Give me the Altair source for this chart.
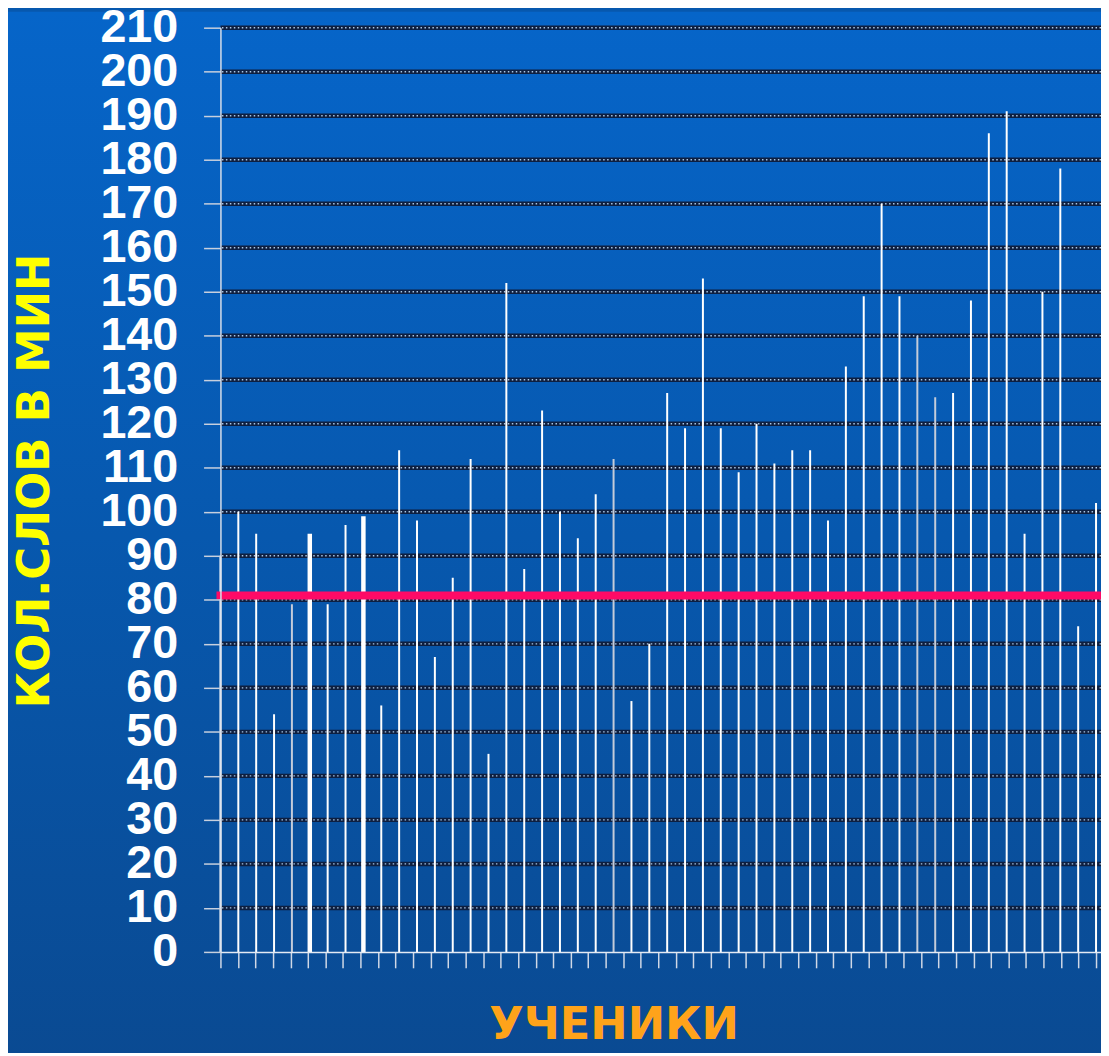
import altair as alt
import pandas as pd

# ---- data ----
students = list(range(50))
words_per_min = [90, 100, 95, 54, 79, 95, 79, 97, 99, 56,
                 114, 98, 67, 85, 112, 45, 152, 87, 123, 100,
                 94, 104, 112, 57, 70, 127, 119, 153, 119, 109,
                 120, 111, 114, 114, 98, 133, 149, 170, 149, 140,
                 126, 127, 148, 186, 191, 95, 150, 178, 74, 102]
norm_value = [81]
y_ticks = list(range(0, 211, 10))
grid_values = list(range(10, 211, 10))

# ---- styling ----
thick_bars = [5, 8]
grey_bars = [4, 22, 39, 40]
PLOT_W, PLOT_H = 887, 931
x_ticks = [k * 0.98 for k in range(51)]

bars_df = pd.DataFrame({"idx": students, "value": words_per_min})
grid_df = pd.DataFrame({"g": grid_values})
norm_df = pd.DataFrame({"n": norm_value})

yscale = alt.Scale(domain=[0, 210], nice=False, zero=True)
xscale = alt.Scale(domain=[0, PLOT_W / 18.0], nice=False, zero=False)

yaxis = alt.Axis(values=y_ticks, grid=False,
                 domainColor="#D6DEEA", domainWidth=1.5,
                 tickColor="#C8D0DE", tickWidth=1.5, tickSize=17,
                 labelColor="white", labelFont="Liberation Sans",
                 labelFontWeight="bold", labelFontSize=47,
                 labelPadding=26, labelBaseline="middle",
                 labelOverlap=False, labelFlush=False, labelBound=False,
                 title="КОЛ.СЛОВ В МИН", titleColor="#FFFF00",
                 titleFont="DejaVu Sans", titleFontWeight="bold",
                 titleFontSize=45, titleAngle=270,
                 titleX=-173, titleY=456,
                 titleAlign="center", titleBaseline="alphabetic",
                 zindex=1)

bg = alt.Chart(alt.Data(values=[{}])).mark_rect(
    color=alt.LinearGradient(
        gradient="linear",
        stops=[alt.GradientStop(color="#0665C9", offset=0),
               alt.GradientStop(color="#0758AE", offset=0.5),
               alt.GradientStop(color="#0A4A92", offset=1)],
        x1=0, x2=0, y1=0, y2=1),
).encode(x=alt.value(-214), x2=alt.value(PLOT_W), y=alt.value(-16), y2=alt.value(1040))

grid_dark = alt.Chart(grid_df).mark_rule(color="#0E1F40", strokeWidth=4.5).encode(
    y=alt.Y("g:Q", scale=yscale, axis=yaxis)
)
grid_dot = alt.Chart(grid_df).mark_rule(
    color="#A9C6E4", strokeWidth=1.4, strokeDash=[1.5, 2.5]
).encode(y=alt.Y("g:Q", scale=yscale, axis=yaxis))

bars = alt.Chart(bars_df).mark_rule().encode(
    x=alt.X("idx:Q", scale=xscale,
            axis=alt.Axis(values=x_ticks, labels=False, grid=False,
                          domainColor="#E4EAF4", domainWidth=1.5,
                          tickColor="#D0D8E6", tickWidth=1.5, tickSize=16,
                          title="УЧЕНИКИ", titleColor="#FFA31A",
                          titleFont="DejaVu Sans", titleFontWeight="bold",
                          titleFontSize=45, titleX=396, titleY=87,
                          titleAlign="center", titleBaseline="alphabetic",
                          zindex=1)),
    y=alt.Y("value:Q", scale=yscale, axis=yaxis),
    y2=alt.datum(0),
    strokeWidth=alt.condition(alt.FieldOneOfPredicate(field="idx", oneOf=thick_bars),
                              alt.value(4.5), alt.value(2)),
    color=alt.condition(alt.FieldOneOfPredicate(field="idx", oneOf=grey_bars),
                        alt.value("#C4CCDA"), alt.value("#FFFFFF")),
)

norm = alt.Chart(norm_df).mark_rule(color="#FF0A66", strokeWidth=8, strokeCap="square").encode(
    y=alt.Y("n:Q", scale=yscale, axis=yaxis)
)

chart = alt.layer(bg, grid_dark, grid_dot, bars, norm).properties(
    width=PLOT_W, height=PLOT_H,
    autosize=alt.AutoSizeParams(type="none"),
    padding={"left": 214, "top": 16, "right": 0, "bottom": 98},
).configure(background="#0758AE").configure_view(stroke=None)

chart.save("out.html", embed_options={"renderer": "svg", "actions": False})
